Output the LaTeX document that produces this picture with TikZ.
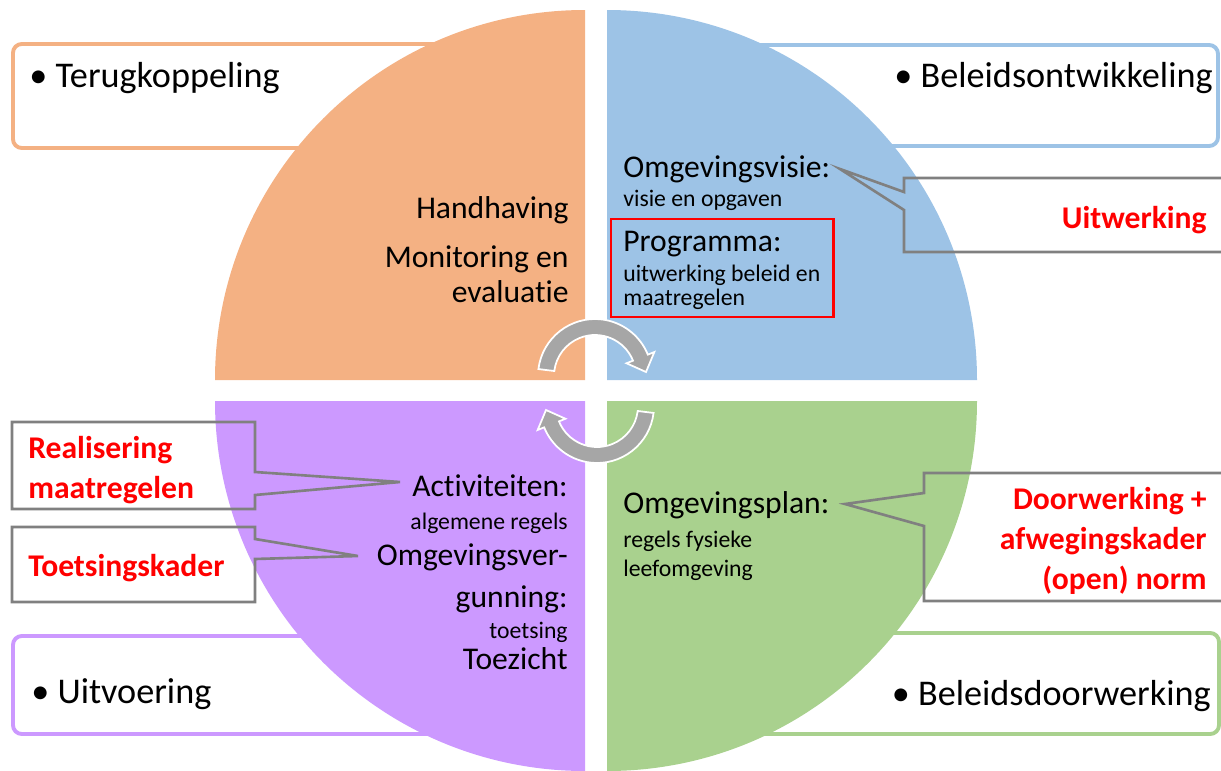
\documentclass[tikz,border=0pt]{standalone}
\usepackage{fontspec}
\setmainfont{Carlito}[Ligatures=NoCommon]
\definecolor{quadorange}{HTML}{F4B183}
\definecolor{quadblue}{HTML}{9DC3E6}
\definecolor{quadgreen}{HTML}{A9D18E}
\definecolor{quadpurple}{HTML}{CC99FF}
\definecolor{calloutgray}{HTML}{808080}
\definecolor{arrowgray}{HTML}{A6A6A6}
\tikzset{
  cornerbox/.style={line width=2.2pt, fill=white, rounded corners=5pt},
  callout/.style={draw=calloutgray, line width=1.5pt},
  bigtxt/.style={inner sep=0pt, font=\fontsize{18}{21}\selectfont},
  smalltxt/.style={inner sep=0pt, font=\fontsize{13.5}{16}\selectfont},
  cornertxt/.style={inner sep=0pt, font=\fontsize{20.6}{24}\selectfont},
  redtxt/.style={inner sep=0pt, text=red, font=\fontsize{18}{21}\selectfont\bfseries},
}
\newcommand\cyclearrow{%
  \fill[arrowgray, draw=white, line width=1pt] (187:57) arc[start angle=187, end angle=338, radius=57]
    -- (338:64) -- (51,-4) -- (338:34) -- (338:41) arc[start angle=338, end angle=187, radius=41] -- cycle;}
\begin{document}
\begin{tikzpicture}[x=0.02cm, y=-0.02cm]
  \useasboundingbox (0,0) rectangle (1221,771);
  \draw[cornerbox, draw=quadorange] (13,44) rectangle (500,148);
  \draw[cornerbox, draw=quadblue] (700,45) rectangle (1218,146);
  \draw[cornerbox, draw=quadpurple] (13,636) rectangle (500,734);
  \draw[cornerbox, draw=quadgreen] (700,633) rectangle (1219,734);

  \fill[quadorange] (585,380) -- (215,380) arc[start angle=180, end angle=270, radius=370] -- cycle;
  \fill[quadblue] (607,380) -- (977,380) arc[start angle=0, end angle=-90, radius=370] -- cycle;
  \fill[quadgreen] (607,401) -- (977,401) arc[start angle=0, end angle=90, radius=370] -- cycle;
  \fill[quadpurple] (585,401) -- (215,401) arc[start angle=180, end angle=90, radius=370] -- cycle;

  \node[cornertxt, anchor=mid west] (terug) at (29,83) {• Terugkoppeling};
  \node[cornertxt, anchor=mid east] (ontw) at (1213,83) {• Beleidsontwikkeling};
  \node[cornertxt, anchor=mid west] (uitv) at (31,699) {• Uitvoering};
  \node[cornertxt, anchor=mid east] (doorw) at (1211,701) {• Beleidsdoorwerking};

  \node[bigtxt, anchor=mid east] (handh) at (569,214) {Handhaving};
  \node[bigtxt, anchor=mid east] (monit) at (569,263) {Monitoring en};
  \node[bigtxt, anchor=mid east] (evalu) at (569,298) {evaluatie};

  \node[bigtxt, anchor=mid west] (visie) at (623,173) {Omgevingsvisie:};
  \node[smalltxt, anchor=mid west] (visiesub) at (623,202) {visie en opgaven};
  \node[bigtxt, anchor=mid west] (progr) at (623,247) {Programma:};
  \node[smalltxt, anchor=mid west] (progrsub) at (623,277) {uitwerking beleid en};
  \node[smalltxt, anchor=mid west] (progrsubb) at (623,301) {maatregelen};
  \draw[red, line width=1.7pt] (611,219) rectangle (833,317);

  \node[bigtxt, anchor=mid west] (plan) at (623,509) {Omgevingsplan:};
  \node[smalltxt, anchor=mid west] (plansub) at (623,543) {regels fysieke};
  \node[smalltxt, anchor=mid west] (plansubb) at (623,572) {leefomgeving};

  \node[bigtxt, anchor=mid east] (activ) at (568,492) {Activiteiten:};
  \node[smalltxt, anchor=mid east] (activsub) at (568,525) {algemene regels};
  \node[bigtxt, anchor=mid east] (vergun) at (568,561) {Omgevingsver-};
  \node[bigtxt, anchor=mid east] (vergunb) at (568,603) {gunning:};
  \node[smalltxt, anchor=mid east] (vergunsub) at (568,634) {toetsing};
  \node[bigtxt, anchor=mid east] (toez) at (568,665) {Toezicht};

  \coordinate (visietip) at (840,169);
  \coordinate (plantip) at (845,504);
  \coordinate (activtip) at (400,482);
  \coordinate (verguntip) at (358,556);
  \draw[callout] (1235,178) -- (904,178) -- (904,192) -- (visietip) -- (904,210) -- (904,252) -- (1235,252);
  \draw[callout] (1235,473) -- (924,473) -- (924,493) -- (plantip) -- (924,526) -- (924,601) -- (1235,601);
  \draw[callout] (12,422) -- (255,422) -- (255,472) -- (activtip) -- (255,495) -- (255,509) -- (12,509) -- cycle;
  \draw[callout] (12,527) -- (255,527) -- (255,539) -- (verguntip) -- (255,559) -- (255,602) -- (12,602) -- cycle;

  \node[redtxt, anchor=mid east] (uitw) at (1207,224) {Uitwerking};
  \node[redtxt, anchor=mid east] (doorwa) at (1207,505) {Doorwerking +};
  \node[redtxt, anchor=mid east] (doorwb) at (1207,545) {afwegingskader};
  \node[redtxt, anchor=mid east] (doorwc) at (1207,585) {(open) norm};
  \node[redtxt, anchor=mid west] (realia) at (28,454) {Realisering};
  \node[redtxt, anchor=mid west] (realib) at (28,494) {maatregelen};
  \node[redtxt, anchor=mid west] (toets) at (28,572) {Toetsingskader};

  \begin{scope}[shift={(595,376)}]
    \cyclearrow
  \end{scope}
  \begin{scope}[rotate around={180:(596,391)}, shift={(595,376)}]
    \cyclearrow
  \end{scope}
\end{tikzpicture}
\end{document}
